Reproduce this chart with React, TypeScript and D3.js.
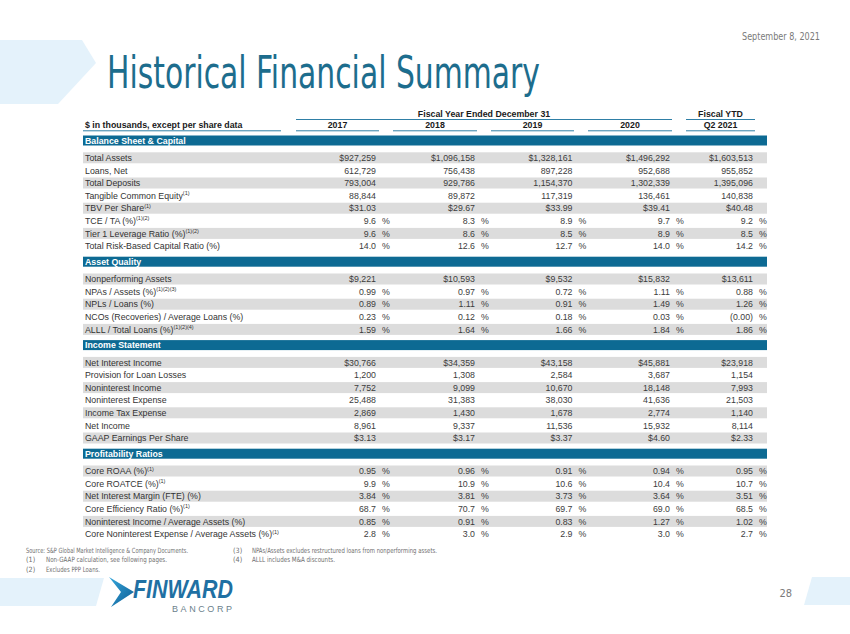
import React from "react";
import * as d3 from "d3";

// ---------- DATA ----------
const years = ["2017", "2018", "2019", "2020", "Q2 2021"];
const sectionTitles = ["Balance Sheet & Capital", "Asset Quality", "Income Statement", "Profitability Ratios"];
const sectionSizes = [8, 5, 7, 6];

const rowLabels = [
  "Total Assets", "Loans, Net", "Total Deposits", "Tangible Common Equity", "TBV Per Share",
  "TCE / TA (%)", "Tier 1 Leverage Ratio (%)", "Total Risk-Based Capital Ratio (%)",
  "Nonperforming Assets", "NPAs / Assets (%)", "NPLs / Loans (%)", "NCOs (Recoveries) / Average Loans (%)", "ALLL / Total Loans (%)",
  "Net Interest Income", "Provision for Loan Losses", "Noninterest Income", "Noninterest Expense", "Income Tax Expense", "Net Income", "GAAP Earnings Per Share",
  "Core ROAA (%)", "Core ROATCE (%)", "Net Interest Margin (FTE) (%)", "Core Efficiency Ratio (%)", "Noninterest Income / Average Assets (%)", "Core Noninterest Expense / Average Assets (%)",
];
const rowNotes = [
  "", "", "", "(1)", "(1)", "(1)(2)", "(1)(2)", "",
  "", "(1)(2)(3)", "", "", "(1)(2)(4)",
  "", "", "", "", "", "", "",
  "(1)", "(1)", "", "(1)", "", "(1)",
];
const rowFormats = [
  "usd0", "int", "int", "int", "usd2", "p1", "p1", "p1",
  "usd0", "p2", "p2", "p2", "p2",
  "usd0", "int", "int", "int", "int", "int", "usd2",
  "p2", "p1", "p2", "p1", "p2", "p1",
];
const values2017 = [927259, 612729, 793004, 88844, 31.03, 9.6, 9.6, 14.0, 9221, 0.99, 0.89, 0.23, 1.59, 30766, 1200, 7752, 25488, 2869, 8961, 3.13, 0.95, 9.9, 3.84, 68.7, 0.85, 2.8];
const values2018 = [1096158, 756438, 929786, 89872, 29.67, 8.3, 8.6, 12.6, 10593, 0.97, 1.11, 0.12, 1.64, 34359, 1308, 9099, 31383, 1430, 9337, 3.17, 0.96, 10.9, 3.81, 70.7, 0.91, 3.0];
const values2019 = [1328161, 897228, 1154370, 117319, 33.99, 8.9, 8.5, 12.7, 9532, 0.72, 0.91, 0.18, 1.66, 43158, 2584, 10670, 38030, 1678, 11536, 3.37, 0.91, 10.6, 3.73, 69.7, 0.83, 2.9];
const values2020 = [1496292, 952688, 1302339, 136461, 39.41, 9.7, 8.9, 14.0, 15832, 1.11, 1.49, 0.03, 1.84, 45881, 3687, 18148, 41636, 2774, 15932, 4.60, 0.94, 10.4, 3.64, 69.0, 1.27, 3.0];
const valuesQ2_2021 = [1603513, 955852, 1395096, 140838, 40.48, 9.2, 8.5, 14.2, 13611, 0.88, 1.26, -0.001, 1.86, 23918, 1154, 7993, 21503, 1140, 8114, 2.33, 0.95, 10.7, 3.51, 68.5, 1.02, 2.7];
const valueColumns = [values2017, values2018, values2019, values2020, valuesQ2_2021];

const footnoteMarks = ["", "(1)", "(2)", "(3)", "(4)"];
const footnoteTexts = [
  "Source: S&P Global Market Intelligence & Company Documents.",
  "Non-GAAP calculation, see following pages.",
  "Excludes PPP Loans.",
  "NPAs/Assets excludes restructured loans from nonperforming assets.",
  "ALLL includes M&A discounts.",
];

// ---------- LAYOUT ----------
const W = 850;
const H = 634;
const TL = 83;
const TR = 767;
const FONT = "'Liberation Sans', Arial, Helvetica, sans-serif";
const COND = "'Liberation Sans Narrow', 'DejaVu Sans Condensed', 'Liberation Sans', sans-serif";
const BLUE = "#0d6a93";
const LINE = "#2f7fa6";

const colRight = d3.scaleOrdinal<string, number>().domain(years).range([376, 475, 572.5, 670, 753]);
const colSpan = d3.scaleOrdinal<string, [number, number]>().domain(years).range([
  [296, 379], [393, 477], [491, 574], [588, 672], [686, 755],
]);

// footnote placement (x of mark, x of text, baseline, text width)
const footLayout = [
  { mx: 26, tx: 26, y: 553, w: 162 },
  { mx: 26, tx: 46, y: 562.3, w: 121 },
  { mx: 26, tx: 46, y: 571.6, w: 54 },
  { mx: 233, tx: 252, y: 553, w: 185 },
  { mx: 233, tx: 252, y: 562.3, w: 83 },
];

const fInt = d3.format(",");
const f2 = d3.format(".2f");
const f1 = d3.format(".1f");
function fmt(v: number, kind: string): string {
  if (kind === "usd0") return "$" + fInt(v);
  if (kind === "int") return fInt(v);
  if (kind === "usd2") return "$" + f2(v);
  const f = kind === "p2" ? f2 : f1;
  return v < 0 ? "(" + f(Math.abs(v)) + ")" : f(v);
}

// vertical positions of section headers and rows
const HEADER_TO_ROW = 17.3;
const ROW_PITCH = 12.6;
const ROW_TO_HEADER = 15.7;
const sectionStarts = d3.cumsum([0, ...sectionSizes.slice(0, -1)]);
const headerYs: number[] = [];
const rowYs: number[] = [];
{
  let y = 140.5;
  sectionSizes.forEach((n) => {
    headerYs.push(y);
    d3.range(n).forEach((i) => rowYs.push(y + HEADER_TO_ROW + i * ROW_PITCH));
    y = y + HEADER_TO_ROW + (n - 1) * ROW_PITCH + ROW_TO_HEADER;
  });
}

export default function App() {
  return (
    <svg
      width={W}
      height={H}
      viewBox={`0 0 ${W} ${H}`}
      style={{ position: "absolute", left: 0, top: 0, background: "#fff" }}
    >
      <defs>
        <linearGradient id="arrowGrad" x1="0" y1="0" x2="1" y2="1">
          <stop offset="0%" stopColor="#35a7dc" />
          <stop offset="100%" stopColor="#0e5c93" />
        </linearGradient>
      </defs>
      <rect x={0} y={0} width={W} height={H} fill="#fff" />

      {/* top decoration */}
      <polygon points="0,40 82,40 96,63 58,104 0,104" fill="#e4f2fb" />
      <text x={820} y={40} textAnchor="end" fontFamily={COND} fontSize={11} fill="#7a7a7a" textLength={78} lengthAdjust="spacingAndGlyphs">
        September 8, 2021
      </text>
      <text x={107} y={88} fontFamily={COND} fontSize={45} fontWeight={300} fill="#1d6d8d" textLength={433} lengthAdjust="spacingAndGlyphs">
        Historical Financial Summary
      </text>

      {/* column headers */}
      <g fontFamily={FONT} fontSize={8.8} fontWeight="bold" fill="#1a1a1a">
        <text x={484} y={116.5} textAnchor="middle">Fiscal Year Ended December 31</text>
        <line x1={296} x2={672} y1={119.5} y2={119.5} stroke={LINE} strokeWidth={1} />
        <text x={720.5} y={116.5} textAnchor="middle">Fiscal YTD</text>
        <line x1={686} x2={755} y1={119.5} y2={119.5} stroke={LINE} strokeWidth={1} />
        <text x={85} y={128.3}>$ in thousands, except per share data</text>
        <line x1={TL} x2={281} y1={130.8} y2={130.8} stroke={LINE} strokeWidth={1} />
        {years.map((yr) => {
          const [a, b] = colSpan(yr);
          return (
            <g key={yr}>
              <text x={(a + b) / 2} y={128.3} textAnchor="middle">{yr}</text>
              <line x1={a} x2={b} y1={130.8} y2={130.8} stroke={LINE} strokeWidth={1} />
            </g>
          );
        })}
      </g>

      {/* sections */}
      {sectionTitles.map((title, s) => {
        const hy = headerYs[s];
        const start = sectionStarts[s];
        return (
          <g key={title}>
            <rect x={TL} y={hy - 5} width={TR - TL} height={10} fill={BLUE} />
            <text x={85} y={hy + 3.2} fontFamily={FONT} fontSize={8.8} fontWeight="bold" fill="#fff">{title}</text>
            {d3.range(sectionSizes[s]).map((i) => {
              const r = start + i;
              const ry = rowYs[r];
              return (
                <g key={r}>
                  {i % 2 === 0 && <rect x={TL} y={ry - 5.5} width={TR - TL} height={11} fill="#dcdcdc" />}
                  <text x={85} y={ry + 3.1} fontFamily={FONT} fontSize={8.8} fill="#333">
                    {rowLabels[r]}
                    {rowNotes[r] && (
                      <tspan fontSize={5.5} dy={-3.6}>{rowNotes[r]}</tspan>
                    )}
                  </text>
                  {years.map((yr, c) => {
                    const kind = rowFormats[r];
                    const isPct = kind === "p1" || kind === "p2";
                    const xr = colRight(yr);
                    return (
                      <g key={yr} fontFamily={FONT} fontSize={8.8} fill="#3d3d3d">
                        <text x={xr} y={ry + 3.1} textAnchor="end">{fmt(valueColumns[c][r], kind)}</text>
                        {isPct && <text x={xr + 6} y={ry + 3.1}>%</text>}
                      </g>
                    );
                  })}
                </g>
              );
            })}
          </g>
        );
      })}

      {/* footnotes */}
      <g fontFamily={COND} fontSize={7.2} fill="#6f6f6f">
        {footnoteTexts.map((t, i) => {
          const L = footLayout[i];
          return (
            <g key={i}>
              {footnoteMarks[i] && <text x={L.mx} y={L.y}>{footnoteMarks[i]}</text>}
              <text x={L.tx} y={L.y} textLength={L.w} lengthAdjust="spacingAndGlyphs">{t}</text>
            </g>
          );
        })}
      </g>

      {/* bottom decoration & logo */}
      <polygon points="0,578 104,578 96,606 0,606" fill="#e4f2fb" />
      <polygon points="812,577 850,577 850,605 804,605" fill="#e4f2fb" />
      <polygon points="109,577 134,592 111,607 121,592" fill="url(#arrowGrad)" />
      <text x={133} y={597.5} fontFamily={FONT} fontSize={25} fontWeight="bold" fontStyle="italic" fill="#1f70a3" textLength={100} lengthAdjust="spacingAndGlyphs">
        FINWARD
      </text>
      <text x={172} y={612} fontFamily={FONT} fontSize={9} fill="#6b7f8c" textLength={60} lengthAdjust="spacing">
        BANCORP
      </text>
      <text x={792} y={597} textAnchor="end" fontFamily={COND} fontSize={11} fill="#7a7a7a">28</text>
    </svg>
  );
}
